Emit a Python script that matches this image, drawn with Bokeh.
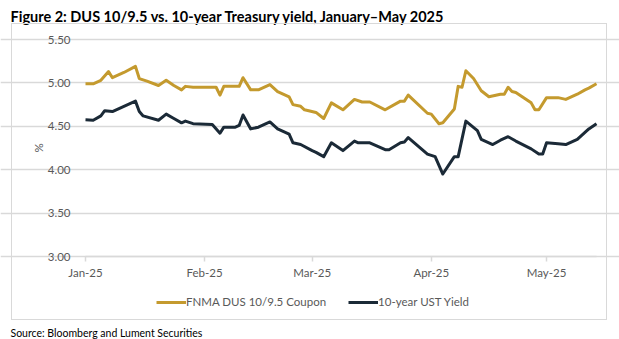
from datetime import datetime
from bokeh.plotting import figure
from bokeh.models import (FixedTicker, DatetimeTickFormatter, NumeralTickFormatter,
                          Range1d, Legend, LegendItem, Label, InlineStyleSheet)
from bokeh.embed import file_html
from bokeh.resources import INLINE

# ---- data ----
dus_dates = ["2025-01-01", "2025-01-03", "2025-01-05", "2025-01-07", "2025-01-08", "2025-01-11",
             "2025-01-14", "2025-01-15", "2025-01-17", "2025-01-20", "2025-01-22", "2025-01-24",
             "2025-01-26", "2025-01-27", "2025-01-29", "2025-02-04", "2025-02-05", "2025-02-06",
             "2025-02-10", "2025-02-11", "2025-02-13", "2025-02-15", "2025-02-18", "2025-02-20",
             "2025-02-23", "2025-02-24", "2025-02-26", "2025-02-27", "2025-03-02", "2025-03-04",
             "2025-03-06", "2025-03-09", "2025-03-12", "2025-03-14", "2025-03-16", "2025-03-20",
             "2025-03-24", "2025-03-25", "2025-03-26", "2025-03-31", "2025-04-01", "2025-04-03",
             "2025-04-04", "2025-04-07", "2025-04-08", "2025-04-09", "2025-04-10", "2025-04-12",
             "2025-04-14", "2025-04-16", "2025-04-19", "2025-04-20", "2025-04-21", "2025-04-22",
             "2025-04-23", "2025-04-27", "2025-04-28", "2025-04-29", "2025-05-01", "2025-05-04",
             "2025-05-06", "2025-05-09", "2025-05-11", "2025-05-12", "2025-05-14"]
dus_values = [4.99, 4.99, 5.03, 5.13, 5.06, 5.12,
              5.19, 5.05, 5.02, 4.97, 5.03, 4.97,
              4.92, 4.96, 4.95, 4.95, 4.86, 4.96,
              4.96, 5.06, 4.92, 4.92, 4.98, 4.90,
              4.84, 4.75, 4.73, 4.69, 4.66, 4.59,
              4.77, 4.69, 4.81, 4.78, 4.78, 4.69,
              4.79, 4.79, 4.86, 4.65, 4.64, 4.53,
              4.54, 4.70, 4.96, 4.95, 5.14, 5.05,
              4.91, 4.84, 4.87, 4.87, 4.95, 4.90,
              4.89, 4.77, 4.69, 4.69, 4.83, 4.83,
              4.81, 4.87, 4.92, 4.94, 4.99]

ust_dates = ["2025-01-01", "2025-01-03", "2025-01-05", "2025-01-06", "2025-01-08", "2025-01-14",
             "2025-01-15", "2025-01-16", "2025-01-20", "2025-01-22", "2025-01-24", "2025-01-26",
             "2025-01-27", "2025-01-29", "2025-02-03", "2025-02-05", "2025-02-06", "2025-02-09",
             "2025-02-10", "2025-02-11", "2025-02-13", "2025-02-15", "2025-02-18", "2025-02-20",
             "2025-02-23", "2025-02-24", "2025-02-26", "2025-03-01", "2025-03-02", "2025-03-04",
             "2025-03-06", "2025-03-09", "2025-03-12", "2025-03-13", "2025-03-16", "2025-03-20",
             "2025-03-21", "2025-03-24", "2025-03-25", "2025-03-26", "2025-03-31", "2025-04-02",
             "2025-04-04", "2025-04-07", "2025-04-08", "2025-04-10", "2025-04-13", "2025-04-14",
             "2025-04-17", "2025-04-19", "2025-04-21", "2025-04-23", "2025-04-27", "2025-04-29",
             "2025-04-30", "2025-05-01", "2025-05-04", "2025-05-06", "2025-05-09", "2025-05-12",
             "2025-05-14"]
ust_values = [4.575, 4.57, 4.62, 4.68, 4.67, 4.79,
              4.67, 4.62, 4.57, 4.64, 4.59, 4.54,
              4.56, 4.53, 4.52, 4.42, 4.49, 4.49,
              4.51, 4.63, 4.47, 4.49, 4.55, 4.47,
              4.41, 4.31, 4.29, 4.22, 4.20, 4.15,
              4.31, 4.22, 4.33, 4.31, 4.31, 4.23,
              4.23, 4.31, 4.32, 4.37, 4.18, 4.15,
              3.95, 4.15, 4.15, 4.56, 4.45, 4.35,
              4.29, 4.34, 4.38, 4.33, 4.24, 4.18,
              4.18, 4.31, 4.30, 4.29, 4.35, 4.47,
              4.53]

month_ticks = ["2025-01-01", "2025-02-01", "2025-03-01", "2025-04-01", "2025-05-01"]
y_ticks = [3.0, 3.5, 4.0, 4.5, 5.0, 5.5]
x_start, x_end = "2025-01-01", "2025-05-14"

series_names = ["FNMA DUS 10/9.5 Coupon", "10-year UST Yield"]
title_text = "Figure 2: DUS 10/9.5 vs. 10-year Treasury yield, January\u2013May 2025"
source_text = "Source: Bloomberg and Lument Securities"

GOLD = "#C49A2E"
NAVY = "#1B2A37"
GRID = "#D9D9D9"
TXT = "#595959"
FONT = "Lato"

def to_dt(s):
    return datetime.strptime(s, "%Y-%m-%d")

def ms(d):
    return d.timestamp() * 1000

# ---- page layout (pixels) ----
W, H = 619, 339
PL, PR, PT, PB = 85, 596, 39, 256        # plotting area inside the canvas

# the frame covers the whole canvas; ranges are widened so the data area lands on PL..PR / PT..PB
x0, x1 = ms(to_dt(x_start)), ms(to_dt(x_end))
mpp = (x1 - x0) / (PR - PL)
y0, y1 = y_ticks[0], y_ticks[-1]
upp = (y1 - y0) / (PB - PT)

p = figure(width=W, height=H, x_axis_type="datetime", output_backend="svg",
           toolbar_location=None, min_border_left=0, min_border_right=0,
           min_border_top=0, min_border_bottom=0)
p.x_range = Range1d(x0 - PL * mpp, x1 + (W - PR) * mpp)
p.y_range = Range1d(y0 - (H - PB) * upp, y1 + PT * upp)
p.outline_line_color = None
p.background_fill_color = "white"
p.border_fill_color = "white"

r1 = p.line([to_dt(d) for d in dus_dates], dus_values, line_color=GOLD, line_width=3,
            line_join="round")
r2 = p.line([to_dt(d) for d in ust_dates], ust_values, line_color=NAVY, line_width=3,
            line_join="round")

# grid
p.xgrid.grid_line_color = None
p.ygrid.grid_line_color = GRID
p.ygrid.grid_line_width = 1.5
p.ygrid.ticker = FixedTicker(ticks=y_ticks)
p.ygrid.bounds = (x0, x1)

# y axis, pinned at the first date
p.yaxis.fixed_location = x0
p.yaxis.ticker = FixedTicker(ticks=y_ticks)
p.yaxis.bounds = (y0, y1)
p.yaxis.formatter = NumeralTickFormatter(format="0.00")
p.yaxis.axis_line_color = None
p.yaxis.major_tick_line_color = None
p.yaxis.minor_tick_line_color = None
p.yaxis.major_label_text_font = FONT
p.yaxis.major_label_text_font_size = "11.5px"
p.yaxis.major_label_text_color = TXT
p.yaxis.major_label_standoff = 9
p.yaxis.axis_label = "%"
p.yaxis.axis_label_text_font = FONT
p.yaxis.axis_label_text_font_style = "normal"
p.yaxis.axis_label_text_font_size = "11.5px"
p.yaxis.axis_label_text_color = TXT
p.yaxis.axis_label_standoff = 0

# x axis, pinned at 3.00
tick_ms = [ms(to_dt(d)) for d in month_ticks]
p.xaxis.fixed_location = y0
p.xaxis.ticker = FixedTicker(ticks=tick_ms)
p.xaxis.bounds = (x0, x1)
fmt = "%b-%y"
p.xaxis.formatter = DatetimeTickFormatter(years=fmt, months=fmt, days=fmt, hours=fmt,
                                          minutes=fmt, seconds=fmt, milliseconds=fmt,
                                          microseconds=fmt, hourmin=fmt, minsec=fmt)
p.xaxis.axis_line_color = GRID
p.xaxis.axis_line_width = 1.5
p.xaxis.major_tick_line_color = GRID
p.xaxis.major_tick_line_width = 1.5
p.xaxis.major_tick_in = 0
p.xaxis.major_tick_out = 5
p.xaxis.minor_tick_line_color = None
p.xaxis.major_label_text_font = FONT
p.xaxis.major_label_text_font_size = "11.5px"
p.xaxis.major_label_text_color = TXT
p.xaxis.major_label_standoff = 4

# legend
legend = Legend(items=[LegendItem(label=series_names[0], renderers=[r1]),
                       LegendItem(label=series_names[1], renderers=[r2])],
                location=(156, H - 308), orientation="horizontal",
                glyph_width=30, glyph_height=10, label_standoff=0, spacing=22,
                padding=0, margin=0, border_line_color=None, background_fill_alpha=0,
                label_text_font=FONT, label_text_font_size="11.5px", label_text_color=TXT)
p.add_layout(legend, "center")

# title and source
p.add_layout(Label(x=10, y=H - 16, x_units="screen", y_units="screen", text=title_text,
                   text_font=FONT, text_font_style="bold", text_font_size="14.5px",
                   text_color="#000000", text_baseline="alphabetic"))
p.add_layout(Label(x=10, y=H - 332, x_units="screen", y_units="screen", text=source_text,
                   text_font=FONT, text_font_size="10.5px", text_color="#000000",
                   text_baseline="alphabetic"))

# light grey box around the chart area
p.stylesheets = [InlineStyleSheet(css=(
    ":host { position: relative; }"
    ":host::after { content: ''; position: absolute; left: 11px; top: 23px; "
    "width: 596px; height: 297px; box-sizing: border-box; "
    "border: 1.5px solid " + GRID + "; pointer-events: none; }"))]

open("out.html", "w").write(file_html(p, INLINE))
